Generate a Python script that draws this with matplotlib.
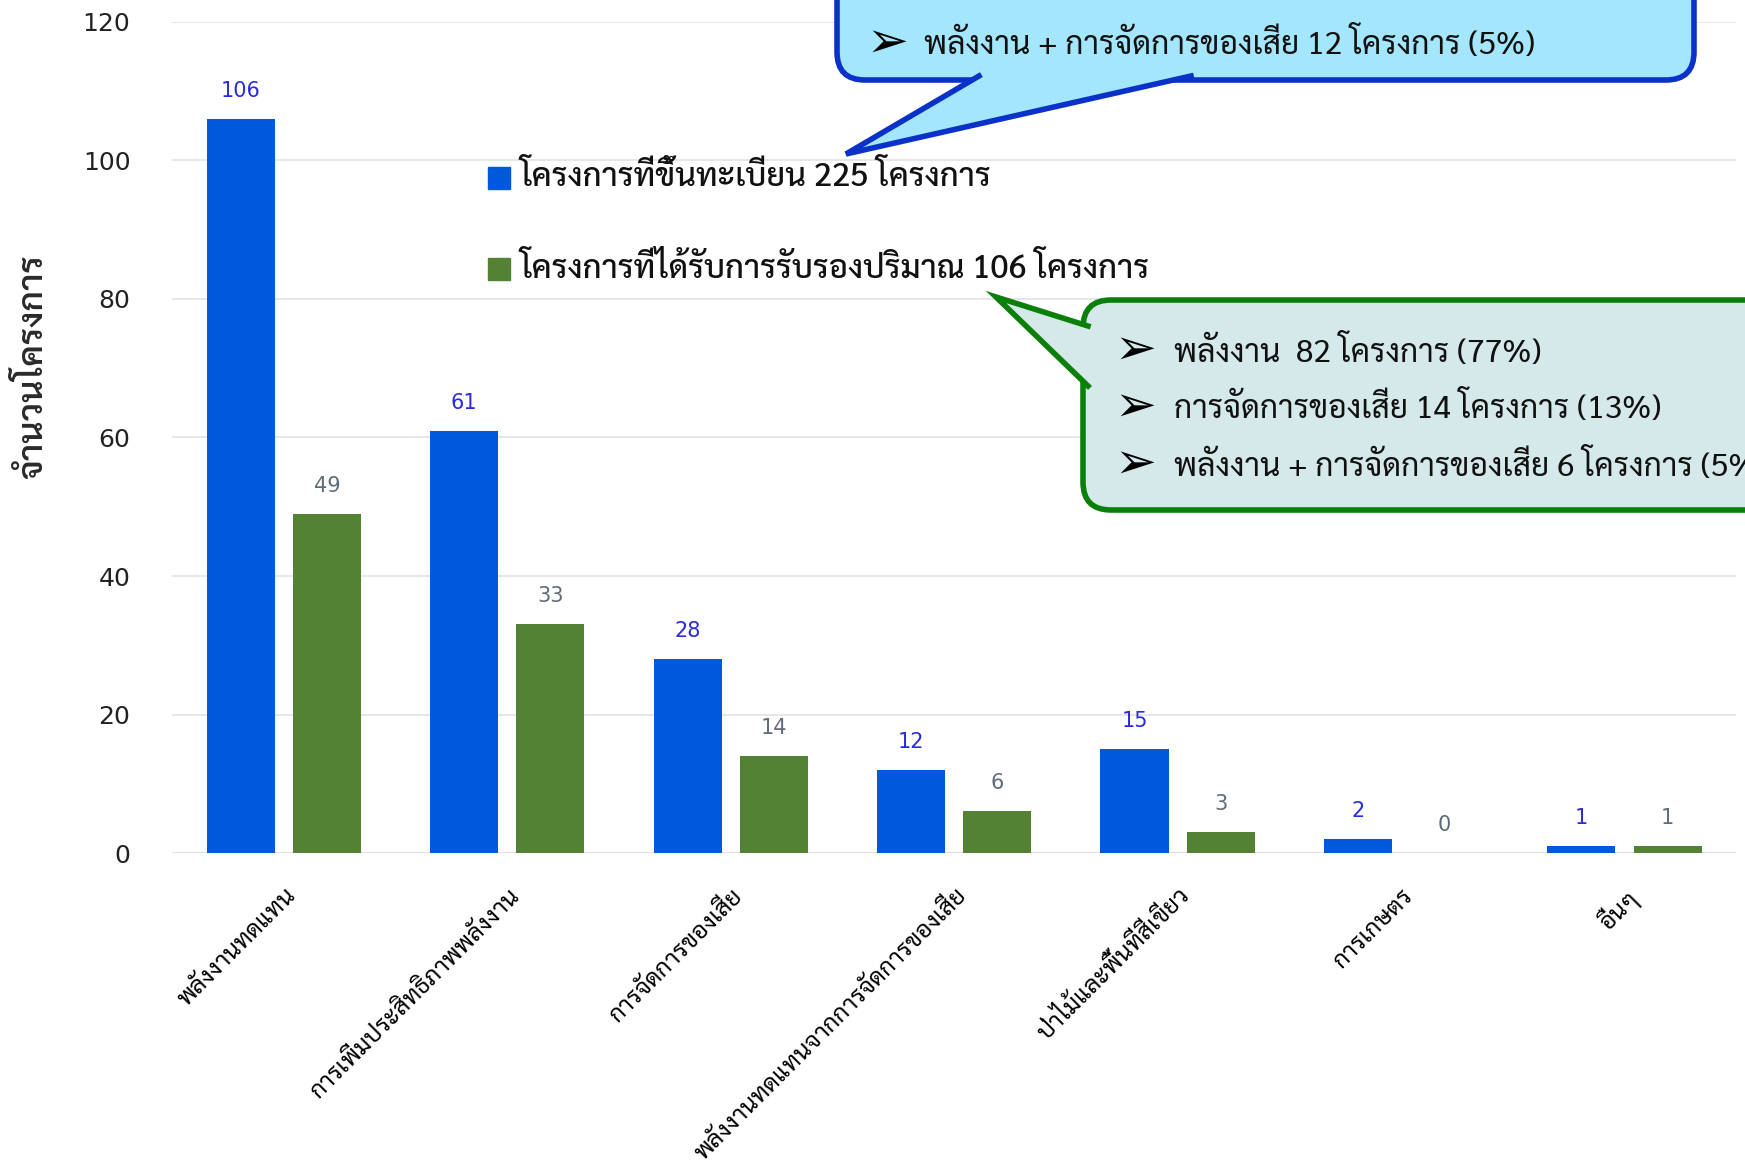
import matplotlib
matplotlib.use("Agg")
import matplotlib.pyplot as plt
from matplotlib.patches import FancyBboxPatch, Polygon, Rectangle
import numpy as np

# data
categories = ['พลังงานทดแทน', 'การเพิ่มประสิทธิภาพพลังงาน', 'การจัดการของเสีย',
              'พลังงานทดแทนจากการจัดการของเสีย', 'ป่าไม้และพื้นที่สีเขียว', 'การเกษตร', 'อื่นๆ']
registered = [106, 61, 28, 12, 15, 2, 1]
certified = [49, 33, 14, 6, 3, 0, 1]
legend_labels = ['โครงการที่ขึ้นทะเบียน 225 โครงการ', 'โครงการที่ได้รับการรับรองปริมาณ 106 โครงการ']
ylabel = 'จำนวนโครงการ'
blue_note = ['พลังงาน + การจัดการของเสีย 12 โครงการ (5%)']
green_note = ['พลังงาน  82 โครงการ (77%)', 'การจัดการของเสีย 14 โครงการ (13%)',
              'พลังงาน + การจัดการของเสีย 6 โครงการ (5%)']

thai = ['Sarabun', 'Noto Sans Thai', 'IBM Plex Sans Thai Looped', 'DejaVu Sans']
plt.rcParams['font.family'] = thai

blue = '#0059dc'
green = '#548235'

fig = plt.figure(figsize=(17.45, 11.69), dpi=100)
ax = fig.add_axes([0.0986, 0.2703, 0.8964, 0.7109])

x = np.arange(len(categories))
w = 0.305
b1 = ax.bar(x - 0.193, registered, w, color=blue, zorder=2)
b2 = ax.bar(x + 0.193, certified, w, color=green, zorder=2)

for rect, v in zip(b1, registered):
    ax.annotate(str(v), (rect.get_x() + rect.get_width() / 2, v), xytext=(0, 13),
                textcoords='offset points', ha='center', va='bottom',
                fontsize=15, color='#2a2ae0', family='DejaVu Sans')
for rect, v in zip(b2, certified):
    ax.annotate(str(v), (rect.get_x() + rect.get_width() / 2, v), xytext=(0, 13),
                textcoords='offset points', ha='center', va='bottom',
                fontsize=15, color='#5f6b78', family='DejaVu Sans')

ax.set_xlim(-0.5, len(categories) - 0.5)
ax.set_ylim(0, 120)
ax.set_yticks(range(0, 121, 20))
ax.tick_params(axis='y', length=0, pad=30, labelsize=18, labelcolor='#222222')
for t in ax.get_yticklabels():
    t.set_family('DejaVu Sans')
ax.set_xticks(x)
ax.set_xticklabels(categories, rotation=45, ha='right', rotation_mode='anchor', fontsize=17.5)
ax.tick_params(axis='x', length=0, pad=22)
ax.grid(axis='y', color='#e3e3e3', linewidth=1.2, zorder=0)
for s in ax.spines.values():
    s.set_visible(False)
ax.axhline(0, color='#d9d9d9', linewidth=1.5, zorder=1)
ax.set_ylabel(ylabel, fontsize=25, fontweight='semibold', color='#2a2a2a')
ax.yaxis.set_label_coords(-0.078, 0.585)

# overlay in pixel coords for legend and callouts
ov = fig.add_axes([0, 0, 1, 1], zorder=5)
ov.set_xlim(0, 1745)
ov.set_ylim(1169, 0)
ov.axis('off')
ov.patch.set_alpha(0)

# legend
for i, (lab, c) in enumerate(zip(legend_labels, [blue, green])):
    yc = 178 + i * 91
    ov.add_patch(Rectangle((488, yc - 11), 22, 22, color=c))
    ov.text(519, yc, lab, fontsize=23.5, fontweight='medium', va='center', ha='left',
            color='#111111')


def callout(x0, y0, x1, y1, tail, fc, ec, lw):
    box = FancyBboxPatch((x0, y0), x1 - x0, y1 - y0, boxstyle='round,pad=0,rounding_size=28',
                         fc=fc, ec=ec, lw=lw, clip_on=False)
    ov.add_patch(box)
    ov.add_patch(Polygon(tail, closed=True, fc=fc, ec='none', clip_on=False))
    ov.plot([tail[0][0], tail[1][0], tail[2][0]], [tail[0][1], tail[1][1], tail[2][1]],
            color=ec, lw=lw, solid_joinstyle='miter', clip_on=False)


# blue callout (registered)
callout(837, -80, 1694, 80, [(979, 76), (846, 154), (1191, 76)], '#a4e6fb', '#0a32c8', 4)
for i, line in enumerate(blue_note):
    ov.text(866, 43 + i * 57, '➢', family='DejaVu Sans', fontsize=36, va='center')
    ov.text(924, 45 + i * 57, line, fontsize=23, va='center', color='#111111')

# green callout (certified)
callout(1083, 300, 1800, 510, [(1088, 326), (996, 297), (1088, 386)], '#d6e9ea', '#0a7f0a', 4)
for i, line in enumerate(green_note):
    ov.text(1114, 350 + i * 57, '➢', family='DejaVu Sans', fontsize=36, va='center')
    ov.text(1174, 352 + i * 57, line, fontsize=23, va='center', color='#111111')

fig.savefig('out.png', dpi=100)
